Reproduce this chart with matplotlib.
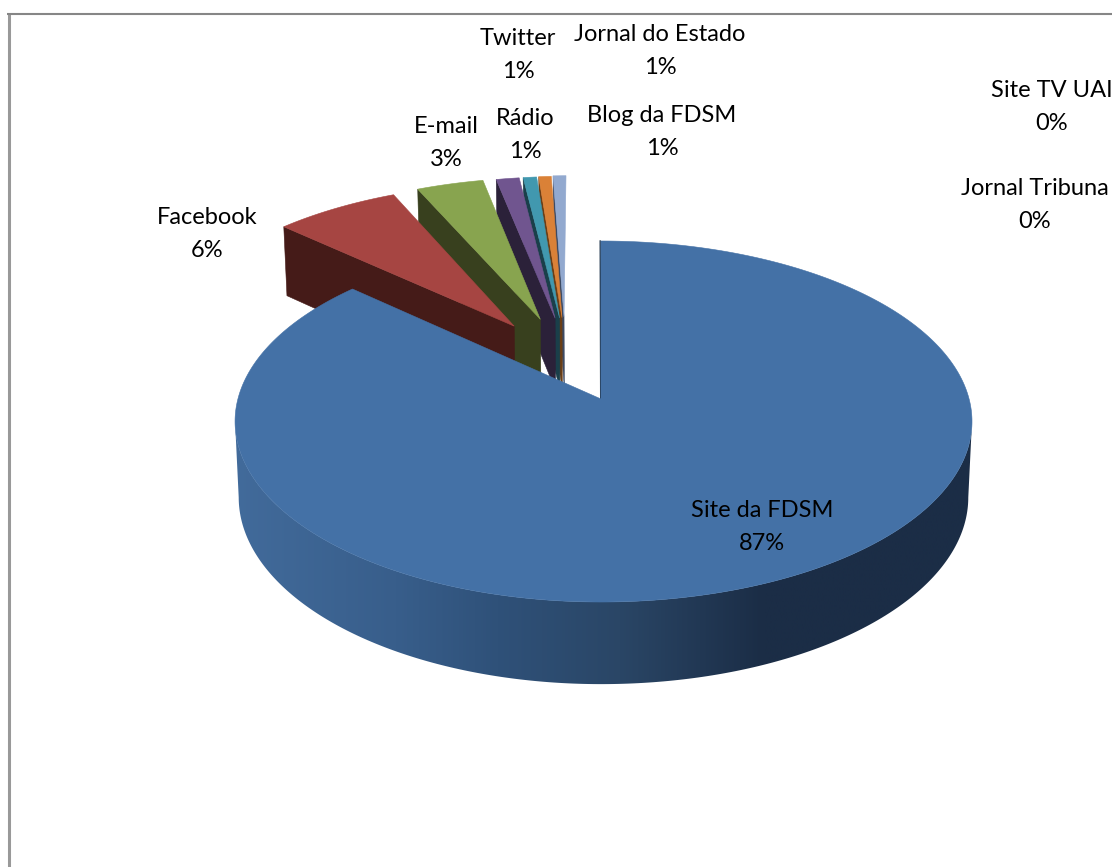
import numpy as np
import matplotlib
matplotlib.use("Agg")
import matplotlib.pyplot as plt
from matplotlib.colors import LinearSegmentedColormap
from matplotlib.patches import Polygon

# ---- data (estimated shares in %, clockwise from 12 o'clock)
categories = ["Site da FDSM", "Facebook", "E-mail", "Rádio", "Twitter",
              "Jornal do Estado", "Blog da FDSM", "Site TV UAI", "Jornal Tribuna"]
shares = [86.70, 6.49, 3.49, 1.20, 0.70, 0.65, 0.67, 0.05, 0.05]

# ---- styling
top_colors = ["#4471A6", "#A64542", "#88A44F", "#70558F", "#4198AF",
              "#DA8137", "#92A9CF", "#A9C0E0", "#C0A0A0"]
wall_colors = ["#22384F", "#451B18", "#38401E", "#2B2139", "#1A3F4A",
               "#6B3E16", "#3D4A63", "#3D4A63", "#3D4A63"]
# slice displacement on the pie plane (right, away from viewer)
explode = [(0, 0), (-0.252, 0.432), (-0.177, 0.475), (-0.134, 0.482),
           (-0.121, 0.484), (-0.114, 0.486), (-0.108, 0.490), (0, 0), (0, 0)]
label_xy = [(762, 527), (207, 234), (446, 143), (525, 135), (518, 55),
            (660, 51), (662, 132), (1052, 107), (1035, 205)]
side_stops = [(240, "#426B9B"), (400, "#385E8B"), (500, "#2F5179"),
              (620, "#2A4666"), (760, "#1B2D46"), (972, "#1B2D46")]

# ---- perspective model of the pie plane, in figure pixels
CX, CY = 601, 399
A_L, A_R, B, K = 363.1, 368.1, 177.7, 0.1247
DEPTH, SX, SY = 75, 0.99, 1.035


def project(u, v, bottom=False):
    u, v = np.asarray(u, float), np.asarray(v, float)
    w = 1 + K * v
    a = np.where(u < 0, A_L, A_R)
    x, y = a * u / w, -B * v / w
    if bottom:
        return CX + SX * x, CY + DEPTH + SY * y
    return CX + x, CY + y


def rim(theta_deg, offset):
    t = np.radians(theta_deg)
    return offset[0] + np.sin(t), offset[1] + np.cos(t)


fig = plt.figure(figsize=(11.12, 8.67), dpi=100, facecolor="white")
ax = fig.add_axes([0, 0, 1, 1])
ax.set_xlim(0, 1112)
ax.set_ylim(867, 0)
ax.axis("off")

ends = np.cumsum(shares) / np.sum(shares) * 360
starts = np.concatenate([[0], ends[:-1]])

# chart frame
ax.plot([8.5, 8.5], [867, 13.5], color="#999999", lw=2.2, solid_capstyle="butt", zorder=1)
ax.plot([7, 1112], [14, 14], color="#868686", lw=1.5, solid_capstyle="butt", zorder=1)

# exploded slices, back to front
for i in range(6, 0, -1):
    off = explode[i]
    th = np.linspace(starts[i], ends[i], 30)
    ax0, ay0 = project(off[0], off[1])
    bx0, by0 = project(off[0], off[1], bottom=True)
    u0, v0 = rim(starts[i], off)
    tx, ty = project(u0, v0)
    btx, bty = project(u0, v0, bottom=True)
    ax.add_patch(Polygon([(ax0, ay0), (tx, ty), (btx, bty), (bx0, by0)],
                         closed=True, fc=wall_colors[i], ec=wall_colors[i],
                         lw=0.4, zorder=2 + (6 - i) * 2))
    uu, vv = rim(th, off)
    px, py = project(uu, vv)
    pts = np.column_stack([np.r_[ax0, px], np.r_[ay0, py]])
    ax.add_patch(Polygon(pts, closed=True, fc=top_colors[i], ec=top_colors[i],
                         lw=0.4, zorder=3 + (6 - i) * 2))

# main slice: curved side between the two tangent points of the rim
off = explode[0]
tangent = np.degrees(np.arccos(-K))
th_side = np.linspace(360 - tangent, tangent, 240)
uu, vv = rim(th_side, off)
x_top, y_top = project(uu, vv)
x_bot, y_bot = project(uu, vv, bottom=True)
side_pts = np.column_stack([np.r_[x_top, x_bot[::-1]], np.r_[y_top, y_bot[::-1]]])
side_poly = Polygon(side_pts, closed=True, fc="none", ec="none", zorder=20,
                    transform=ax.transData)
ax.add_patch(side_poly)
lo, hi = side_stops[0][0], side_stops[-1][0]
cmap = LinearSegmentedColormap.from_list(
    "side", [((x - lo) / (hi - lo), c) for x, c in side_stops])
img = ax.imshow(np.linspace(0, 1, 512)[None, :], extent=[lo - 8, hi + 8, 700, 300],
                cmap=cmap, aspect="auto", zorder=20, interpolation="bilinear")
img.set_clip_path(side_poly)
ax.set_xlim(0, 1112)
ax.set_ylim(867, 0)

# main slice: thin start wall and top face
rx, ry = project(*rim(0, off))
ax0, ay0 = project(off[0], off[1])
ax.plot([rx - 0.8, ax0 - 0.3], [ry, ay0], color=wall_colors[0], lw=1.0, zorder=21)
th = np.linspace(starts[0], ends[0], 500)
uu, vv = rim(th, off)
px, py = project(uu, vv)
ax.add_patch(Polygon(np.column_stack([np.r_[ax0, px], np.r_[ay0, py]]), closed=True,
                     fc=top_colors[0], ec=top_colors[0], lw=0.4, zorder=22))

# labels
for name, val, (lx, ly) in zip(categories, shares, label_xy):
    ax.text(lx, ly, f"{name}\n{round(val)}%", ha="center", va="center",
            family="Lato", fontsize=17, color="black", linespacing=1.72, zorder=30,
            clip_on=False)

fig.savefig("out.png", dpi=100, facecolor="white")
